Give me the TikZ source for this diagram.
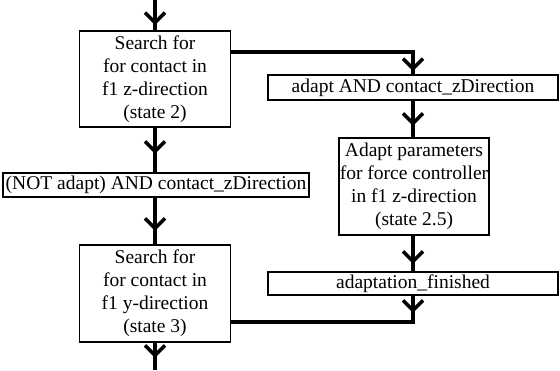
\documentclass[tikz,border=0pt]{standalone}
\usepackage{fontspec}
\setmainfont{Liberation Serif}
\usetikzlibrary{arrows.meta,decorations.markings}
\tikzset{
  statebox/.style={draw, line width=1.8pt, align=center, inner sep=1pt,
    font=\fontsize{19.5}{23}\selectfont},
  condbox/.style={draw, line width=1.8pt, inner sep=0pt,
    font=\fontsize{19.5}{23}\selectfont},
  flow/.style={line width=4pt, postaction={decorate},
    decoration={markings, mark=at position #1 with
      {\arrow{Straight Barb[length=10pt,width=20pt,line width=3.5pt]}}}}
}

\begin{document}
\begin{tikzpicture}[x=1pt,y=-1pt]
\useasboundingbox (0,0) rectangle (560,370);

% left column
\node[statebox, minimum width=151, minimum height=96] (s2) at (155,79)
  {Search for\\for contact in\\f1 z-direction\\(state 2)};
\node[condbox, minimum width=306, minimum height=24] (c1) at (156,185)
  {(NOT adapt) AND contact\_zDirection};
\node[statebox, minimum width=151, minimum height=97] (s3) at (155,293.5)
  {Search for\\for contact in\\f1 y-direction\\(state 3)};

% right column
\node[condbox, minimum width=290, minimum height=25] (c2) at (413,87.5)
  {adapt AND contact\_zDirection};
\node[statebox, minimum width=148, minimum height=97] (s25) at (414,186.5)
  {Adapt parameters\\for force controller\\in f1 z-direction\\(state 2.5)};
\node[condbox, minimum width=290, minimum height=23] (c3) at (413,283.5)
  {adaptation\_finished};

\coordinate (in) at (155,0);
\coordinate (out) at (155,370);
\coordinate (k1) at (413,52);
\coordinate (k2) at (413,322);

\draw[flow=25pt] (in) -- (s2.north);
\draw[flow=26pt] (s2.south) -- (s2.south |- c1.north);
\draw[flow=33pt] (s2.south |- c1.south) -- (s3.north);
\draw[flow=15pt] (s3.south) -- (out);
\draw[flow=-3pt] (s2.east |- k1) -- (k1) -- (c2.north);
\draw[flow=25pt] (c2.south) -- (c2.south |- s25.north);
\draw[flow=28pt] (c2.south |- s25.south) -- (c3.north);
\draw[flow=17pt] (c3.south) -- (k2) -- (s3.east |- k2);
\end{tikzpicture}
\end{document}
